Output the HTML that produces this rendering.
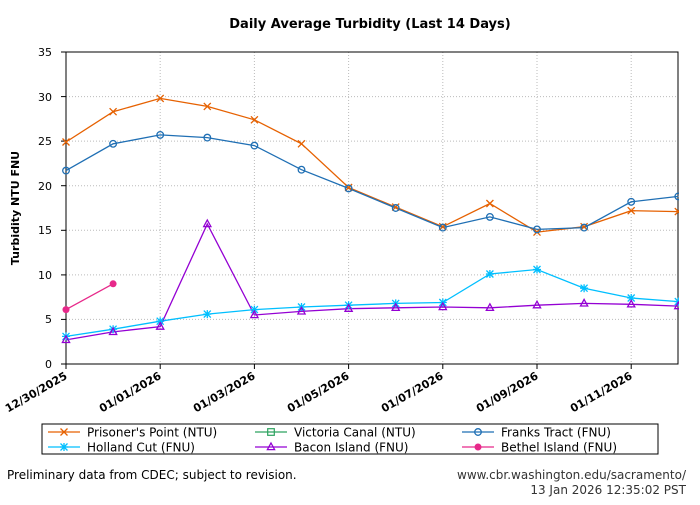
<!DOCTYPE html>
<html><head><style>body{margin:0;background:#fff}svg{font-family:"DejaVu Sans","Liberation Sans",sans-serif}</style></head><body>
<svg width="700" height="500" viewBox="0 0 700 500">
<defs>
<g id="mx"><path d="M-3.5,-3.5L3.5,3.5M-3.5,3.5L3.5,-3.5" stroke="#e66101" stroke-width="1.3"/></g>
<g id="mo"><circle r="3.3" fill="none" stroke="#1f6fb4" stroke-width="1.3"/></g>
<g id="ms"><path d="M-3.5,-3.5L3.5,3.5M-3.5,3.5L3.5,-3.5M-4,0L4,0M0,-4L0,4" stroke="#00bfff" stroke-width="1.3"/></g>
<g id="mt"><path d="M0,-4L3.6,2.6L-3.6,2.6Z" fill="none" stroke="#9400d3" stroke-width="1.3"/></g>
<g id="mb"><circle r="3.5" fill="#e7298a"/></g>
<g id="mq"><rect x="-3.3" y="-3.3" width="6.6" height="6.6" fill="none" stroke="#2ca25f" stroke-width="1.2"/></g>
</defs>
<text x="370" y="28" font-size="13" font-weight="bold" text-anchor="middle">Daily Average Turbidity (Last 14 Days)</text>
<g stroke="#bbb" stroke-dasharray="1,2" stroke-width="1">
<line x1="66" x2="678" y1="319.4" y2="319.4"/><line x1="66" x2="678" y1="274.9" y2="274.9"/><line x1="66" x2="678" y1="230.3" y2="230.3"/><line x1="66" x2="678" y1="185.7" y2="185.7"/><line x1="66" x2="678" y1="141.1" y2="141.1"/><line x1="66" x2="678" y1="96.6" y2="96.6"/>
<line x1="160.2" x2="160.2" y1="52" y2="364"/><line x1="254.4" x2="254.4" y1="52" y2="364"/><line x1="348.6" x2="348.6" y1="52" y2="364"/><line x1="442.8" x2="442.8" y1="52" y2="364"/><line x1="537" x2="537" y1="52" y2="364"/><line x1="631.2" x2="631.2" y1="52" y2="364"/>
</g>
<rect x="66" y="52" width="612" height="312" fill="none" stroke="#000"/>
<g stroke="#000"><line x1="61" x2="66" y1="364" y2="364"/><line x1="61" x2="66" y1="319.4" y2="319.4"/><line x1="61" x2="66" y1="274.9" y2="274.9"/><line x1="61" x2="66" y1="230.3" y2="230.3"/><line x1="61" x2="66" y1="185.7" y2="185.7"/><line x1="61" x2="66" y1="141.1" y2="141.1"/><line x1="61" x2="66" y1="96.6" y2="96.6"/><line x1="61" x2="66" y1="52" y2="52"/>
<line x1="66" x2="66" y1="364" y2="369"/><line x1="160.2" x2="160.2" y1="364" y2="369"/><line x1="254.4" x2="254.4" y1="364" y2="369"/><line x1="348.6" x2="348.6" y1="364" y2="369"/><line x1="442.8" x2="442.8" y1="364" y2="369"/><line x1="537" x2="537" y1="364" y2="369"/><line x1="631.2" x2="631.2" y1="364" y2="369"/></g>
<g font-size="11" text-anchor="end"><text x="52" y="368">0</text><text x="52" y="323">5</text><text x="52" y="279">10</text><text x="52" y="234">15</text><text x="52" y="190">20</text><text x="52" y="145">25</text><text x="52" y="101">30</text><text x="52" y="56">35</text></g>
<g font-size="11" font-weight="bold" text-anchor="end">
<text transform="translate(68,378) rotate(-30)">12/30/2025</text><text transform="translate(162,378) rotate(-30)">01/01/2026</text><text transform="translate(256,378) rotate(-30)">01/03/2026</text><text transform="translate(350,378) rotate(-30)">01/05/2026</text><text transform="translate(444,378) rotate(-30)">01/07/2026</text><text transform="translate(539,378) rotate(-30)">01/09/2026</text><text transform="translate(633,378) rotate(-30)">01/11/2026</text></g>
<text transform="translate(19,208) rotate(-90)" font-size="11" font-weight="bold" text-anchor="middle">Turbidity NTU FNU</text>
<svg x="0" y="0" width="679" height="500" overflow="hidden">
<polyline fill="none" stroke="#e66101" stroke-width="1.3" points="66,142 113.1,111.7 160.2,98.4 207.3,106.4 254.4,119.8 301.5,143.8 348.6,187.5 395.7,207.1 442.8,226.7 489.9,203.5 537,232.1 584.1,226.7 631.2,210.7 678.3,211.6"/>
<polyline fill="none" stroke="#1f6fb4" stroke-width="1.3" points="66,170.6 113.1,143.8 160.2,134.9 207.3,137.6 254.4,145.6 301.5,169.7 348.6,188.4 395.7,208 442.8,227.6 489.9,216.9 537,229.4 584.1,227.6 631.2,201.8 678.3,196.4"/>
<polyline fill="none" stroke="#00bfff" stroke-width="1.3" points="66,336.4 113.1,329.2 160.2,321.2 207.3,314.1 254.4,309.6 301.5,307 348.6,305.2 395.7,303.4 442.8,302.5 489.9,274 537,269.5 584.1,288.2 631.2,298 678.3,301.6"/>
<polyline fill="none" stroke="#9400d3" stroke-width="1.3" points="66,339.9 113.1,331.9 160.2,326.6 207.3,224 254.4,315 301.5,311.4 348.6,308.7 395.7,307.8 442.8,307 489.9,307.8 537,305.2 584.1,303.4 631.2,304.3 678.3,306.1"/>
<polyline fill="none" stroke="#e7298a" stroke-width="1.3" points="66,309.6 113.1,283.8"/>
<use href="#mx" x="66" y="142"/><use href="#mx" x="113.1" y="111.7"/><use href="#mx" x="160.2" y="98.4"/><use href="#mx" x="207.3" y="106.4"/><use href="#mx" x="254.4" y="119.8"/><use href="#mx" x="301.5" y="143.8"/><use href="#mx" x="348.6" y="187.5"/><use href="#mx" x="395.7" y="207.1"/><use href="#mx" x="442.8" y="226.7"/><use href="#mx" x="489.9" y="203.5"/><use href="#mx" x="537" y="232.1"/><use href="#mx" x="584.1" y="226.7"/><use href="#mx" x="631.2" y="210.7"/><use href="#mx" x="678.3" y="211.6"/>
<use href="#mo" x="66" y="170.6"/><use href="#mo" x="113.1" y="143.8"/><use href="#mo" x="160.2" y="134.9"/><use href="#mo" x="207.3" y="137.6"/><use href="#mo" x="254.4" y="145.6"/><use href="#mo" x="301.5" y="169.7"/><use href="#mo" x="348.6" y="188.4"/><use href="#mo" x="395.7" y="208"/><use href="#mo" x="442.8" y="227.6"/><use href="#mo" x="489.9" y="216.9"/><use href="#mo" x="537" y="229.4"/><use href="#mo" x="584.1" y="227.6"/><use href="#mo" x="631.2" y="201.8"/><use href="#mo" x="678.3" y="196.4"/>
<use href="#ms" x="66" y="336.4"/><use href="#ms" x="113.1" y="329.2"/><use href="#ms" x="160.2" y="321.2"/><use href="#ms" x="207.3" y="314.1"/><use href="#ms" x="254.4" y="309.6"/><use href="#ms" x="301.5" y="307"/><use href="#ms" x="348.6" y="305.2"/><use href="#ms" x="395.7" y="303.4"/><use href="#ms" x="442.8" y="302.5"/><use href="#ms" x="489.9" y="274"/><use href="#ms" x="537" y="269.5"/><use href="#ms" x="584.1" y="288.2"/><use href="#ms" x="631.2" y="298"/><use href="#ms" x="678.3" y="301.6"/>
<use href="#mt" x="66" y="339.9"/><use href="#mt" x="113.1" y="331.9"/><use href="#mt" x="160.2" y="326.6"/><use href="#mt" x="207.3" y="224"/><use href="#mt" x="254.4" y="315"/><use href="#mt" x="301.5" y="311.4"/><use href="#mt" x="348.6" y="308.7"/><use href="#mt" x="395.7" y="307.8"/><use href="#mt" x="442.8" y="307"/><use href="#mt" x="489.9" y="307.8"/><use href="#mt" x="537" y="305.2"/><use href="#mt" x="584.1" y="303.4"/><use href="#mt" x="631.2" y="304.3"/><use href="#mt" x="678.3" y="306.1"/>
<use href="#mb" x="66" y="309.6"/><use href="#mb" x="113.1" y="283.8"/>
</svg>
<rect x="42" y="424" width="616" height="30" fill="#fff" stroke="#000"/>
<g stroke-width="1.3"><line x1="48" x2="80" y1="432" y2="432" stroke="#e66101"/><line x1="48" x2="80" y1="447" y2="447" stroke="#00bfff"/><line x1="255" x2="287" y1="432" y2="432" stroke="#2ca25f"/><line x1="255" x2="287" y1="447" y2="447" stroke="#9400d3"/><line x1="462" x2="494" y1="432" y2="432" stroke="#1f6fb4"/><line x1="462" x2="494" y1="447" y2="447" stroke="#e7298a"/></g>
<use href="#mx" x="64" y="432"/><use href="#ms" x="64" y="447"/><use href="#mq" x="271" y="432"/><use href="#mt" x="271" y="447"/><use href="#mo" x="478" y="432"/><use href="#mb" x="478" y="447"/>
<g font-size="12"><text x="87" y="436.5">Prisoner's Point (NTU)</text><text x="87" y="451.5">Holland Cut (FNU)</text><text x="294" y="436.5">Victoria Canal (NTU)</text><text x="294" y="451.5">Bacon Island (FNU)</text><text x="501" y="436.5">Franks Tract (FNU)</text><text x="501" y="451.5">Bethel Island (FNU)</text></g>
<text x="7" y="479" font-size="12">Preliminary data from CDEC; subject to revision.</text>
<g font-size="12" fill="#333" text-anchor="end"><text x="686" y="479">www.cbr.washington.edu/sacramento/</text><text x="686" y="494">13 Jan 2026 12:35:02 PST</text></g>
</svg>
</body></html>
